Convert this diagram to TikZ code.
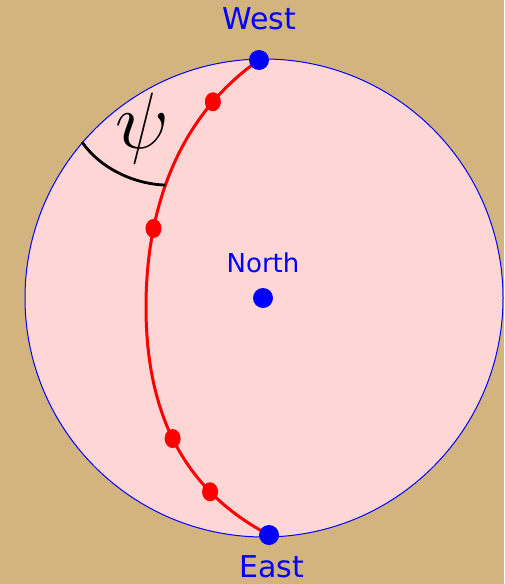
\documentclass[tikz,border=0pt]{standalone}
\usepackage{fix-cm}
\usepackage{fontspec}
\newfontfamily\labelfont{DejaVu Sans}
\usetikzlibrary{positioning,shapes.geometric}
\definecolor{sand}{RGB}{212,180,126}
\definecolor{sphere}{RGB}{255,214,214}

\begin{document}
\begin{tikzpicture}[x=0.5pt, y=-0.5pt,
        pole/.style={circle, fill=blue, inner sep=0pt, minimum size=10pt},
        mark dot/.style={ellipse, fill=red, inner sep=0pt, minimum width=8pt, minimum height=9.5pt},
        track/.style={red, line width=1.5pt},
        dir/.style={text=blue, inner sep=0pt, font=\labelfont\fontsize{15}{18}\selectfont},
        angle arc/.style={black, line width=1.4pt}
    ]
    % Fundo e esfera
    \fill[sand] (0,0) rectangle (504,584);
    \useasboundingbox (0,0) rectangle (504,584);
    \draw[blue, line width=0.5pt, fill=sphere] (264,298) circle [radius=119.5pt];
    % Trajetoria
    \coordinate (west) at (259,60);
    \coordinate (apex) at (146,307);
    \coordinate (east) at (269,535);
    \draw[track] (west) .. controls +(-80,56) and +(0,-100) .. (apex)
        node[mark dot, pos=0.22] (m1) {}
        node[mark dot, pos=0.73] (m2) {}
        coordinate[pos=0.57] (foot)
        .. controls +(0,135) and +(-62,-33) .. (east)
        node[mark dot, pos=0.41] (m3) {}
        node[mark dot, pos=0.67] (m4) {};
    % Angulo psi
    \coordinate (rim) at (82,142);
    \draw[angle arc] (rim) .. controls +(18,26) and +(-32,-1) .. (foot);
    \node[inner sep=0pt, font=\fontsize{40}{44}\selectfont] (psi) at (142,128) {$\psi$};
    % Polos
    \node[pole] (westdot) at (west) {};
    \node[pole] (eastdot) at (east) {};
    \node[pole] (northdot) at (263,298) {};
    % Rotulos
    \node[dir, above=9.5pt of westdot] (westlbl) {West};
    \node[dir, below=5pt of eastdot, xshift=1.5pt] (eastlbl) {East};
    \node[dir, above=7pt of northdot, font=\labelfont\fontsize{13}{16}\selectfont] (northlbl) {North};
\end{tikzpicture}
\end{document}
